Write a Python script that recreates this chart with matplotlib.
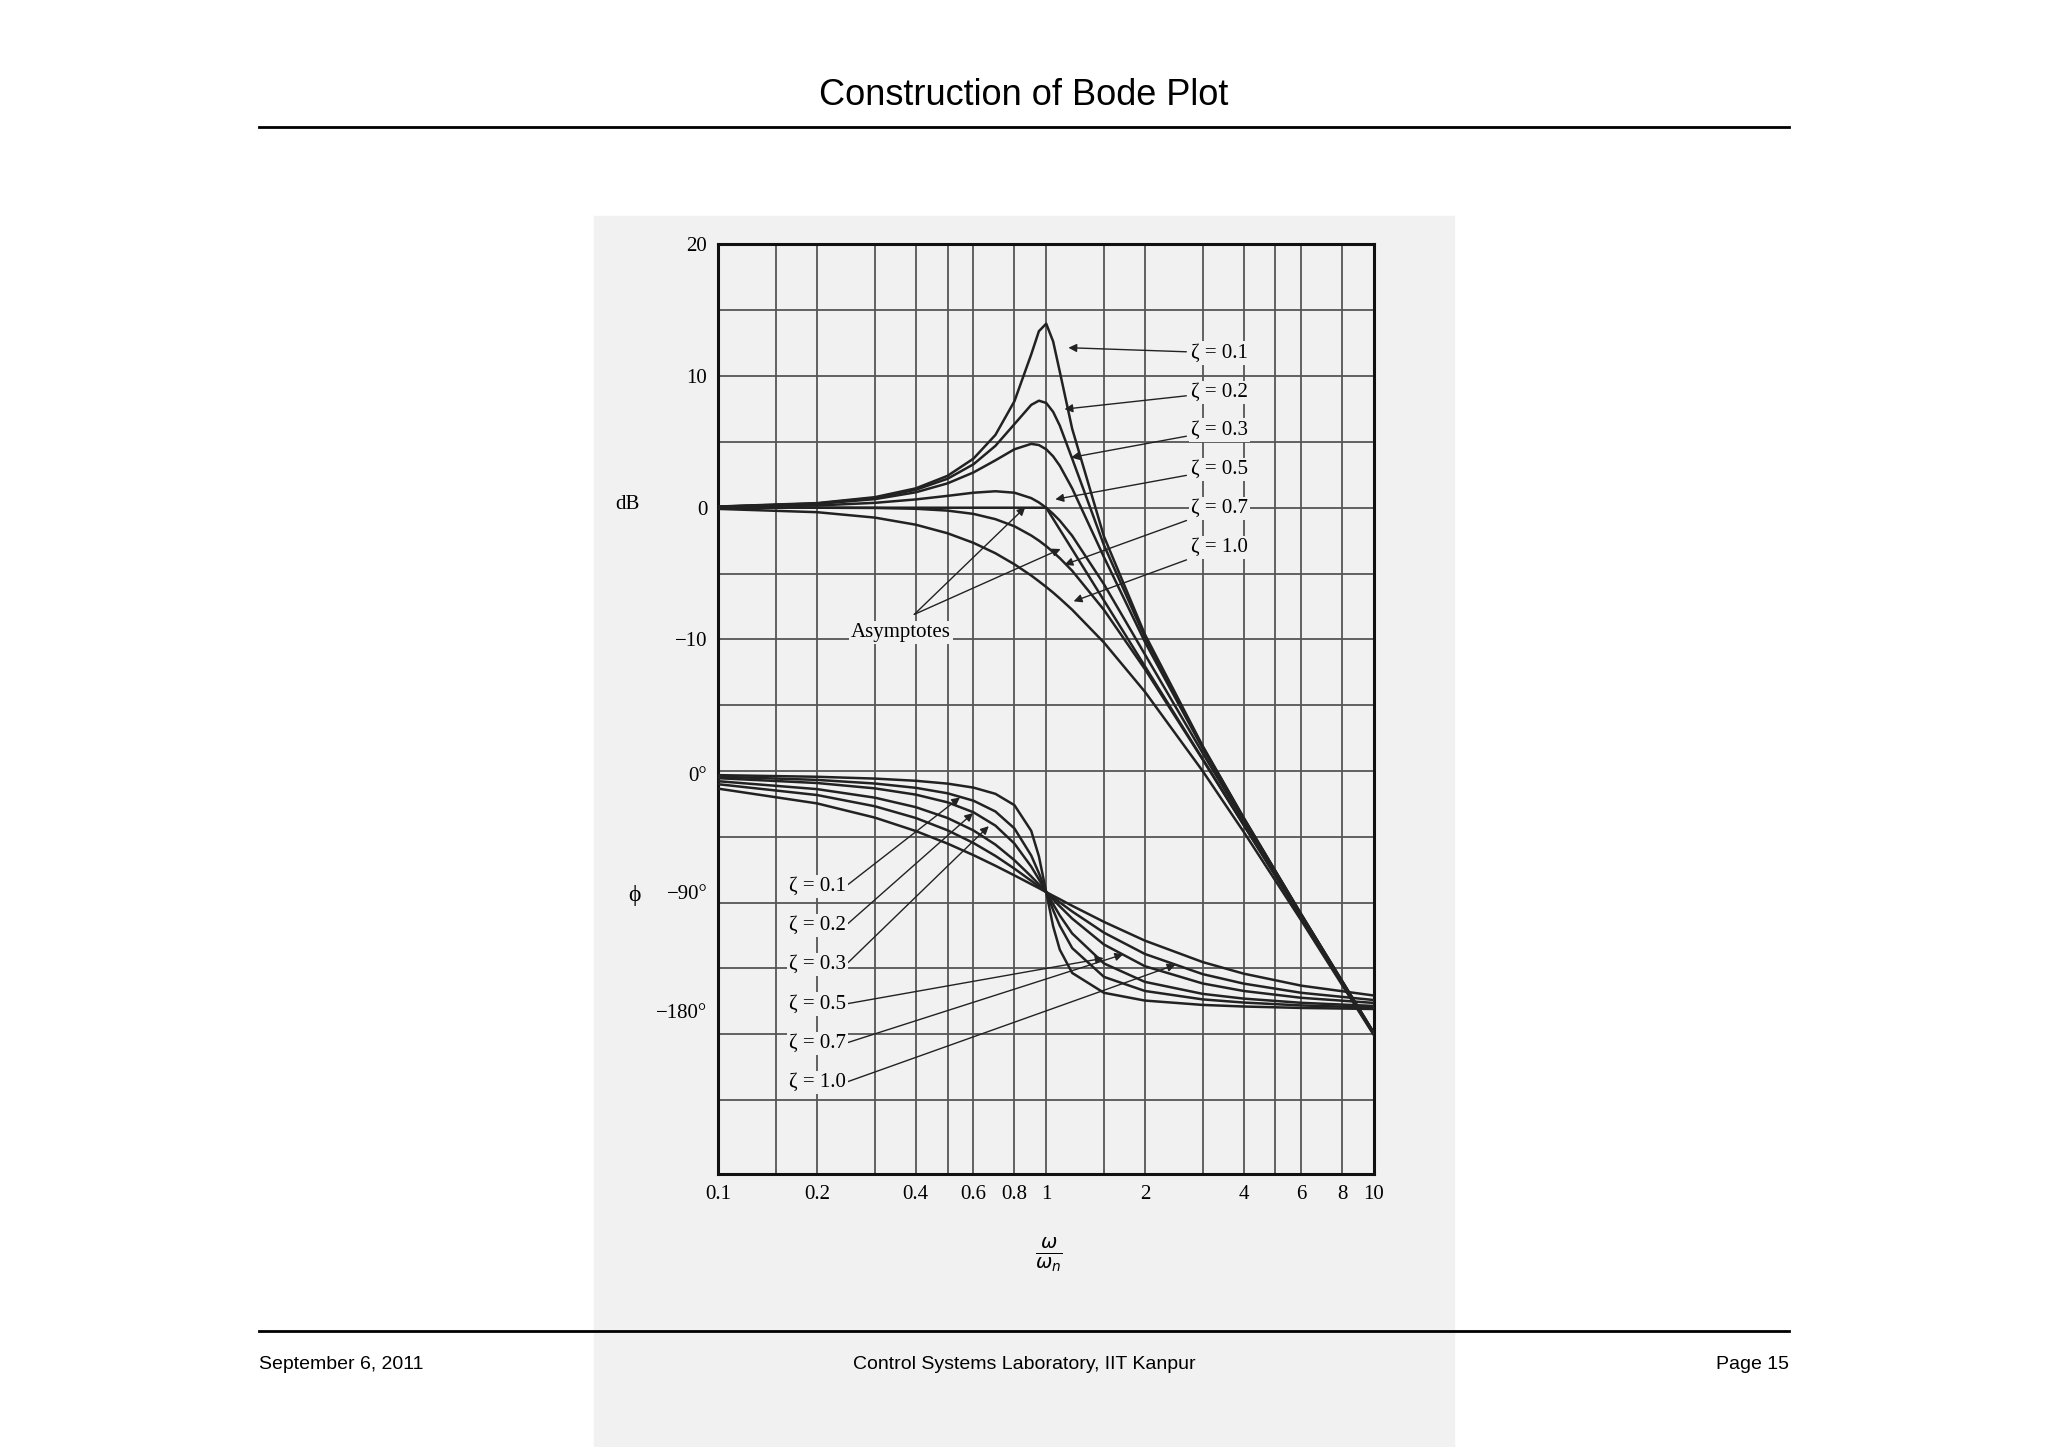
import matplotlib
matplotlib.use("Agg")
import matplotlib.pyplot as plt
from matplotlib.patches import Rectangle

# ---- data ----
u = [0.1, 0.2, 0.3, 0.4, 0.5, 0.6, 0.7, 0.8, 0.9, 0.95, 1.0, 1.05, 1.1, 1.2, 1.5, 2, 3, 4, 6, 10]
zetas = ["0.1", "0.2", "0.3", "0.5", "0.7", "1.0"]
mag_z01 = [0.09, 0.35, 0.80, 1.47, 2.42, 3.73, 5.53, 8.09, 11.64, 13.41, 13.98, 12.63, 10.34, 6.00, -2.18, -9.62, -18.09, -23.53, -30.89, -39.91]
mag_z02 = [0.08, 0.32, 0.74, 1.36, 2.20, 3.30, 4.70, 6.35, 7.81, 8.13, 7.96, 7.28, 6.24, 3.73, -2.84, -9.84, -18.16, -23.57, -30.90, -39.92]
mag_z03 = [0.07, 0.29, 0.65, 1.17, 1.85, 2.68, 3.60, 4.44, 4.85, 4.76, 4.44, 3.90, 3.19, 1.47, -3.75, -10.19, -18.28, -23.63, -30.93, -39.93]
mag_z05 = [0.04, 0.17, 0.37, 0.63, 0.90, 1.14, 1.25, 1.14, 0.73, 0.40, 0.00, -0.47, -0.98, -2.13, -5.81, -11.14, -18.63, -23.82, -31.01, -39.96]
mag_z07 = [0.00, 0.00, -0.02, -0.08, -0.22, -0.47, -0.87, -1.41, -2.11, -2.50, -2.92, -3.37, -3.83, -4.79, -7.76, -12.26, -19.12, -24.09, -31.12, -40.00]
mag_z10 = [-0.09, -0.34, -0.75, -1.29, -1.94, -2.67, -3.46, -4.30, -5.15, -5.59, -6.02, -6.45, -6.89, -7.75, -10.24, -13.98, -20.00, -24.61, -31.36, -40.09]
ph_z01 = [1.16, 2.39, 3.77, 5.44, 7.59, 10.62, 15.35, 23.96, 43.45, 62.8, 90, 116.0, 133.7, 151.4, 166.5, 172.4, 175.7, 176.9, 178.0, 178.8]
ph_z02 = [2.31, 4.76, 7.51, 10.78, 14.93, 20.56, 28.77, 41.63, 62.18, 75.6, 90, 103.7, 115.5, 132.5, 154.4, 165.1, 171.5, 173.9, 176.1, 177.7]
ph_z03 = [3.47, 7.13, 11.19, 15.95, 21.8, 29.36, 39.5, 53.13, 70.6, 80.3, 90, 99.2, 107.7, 121.4, 144.2, 158.2, 167.3, 170.9, 174.1, 176.5]
ph_z05 = [5.77, 11.77, 18.25, 25.46, 33.69, 43.15, 53.93, 65.77, 78.08, 84.1, 90, 95.6, 100.8, 110.1, 129.8, 146.3, 159.4, 165.1, 170.3, 174.2]
ph_z07 = [8.05, 16.26, 24.78, 33.69, 43.03, 52.7, 62.5, 72.2, 81.4, 85.8, 90, 94.0, 97.8, 104.7, 120.8, 137.0, 152.3, 159.5, 166.5, 172.0]
ph_z10 = [11.42, 22.62, 33.40, 43.60, 53.13, 61.93, 69.98, 77.32, 83.97, 87.0, 90, 92.8, 95.4, 100.4, 112.6, 126.87, 143.13, 151.93, 161.08, 168.58]
asym_u = [0.1, 1.0, 10]
asym_db = [0, 0, -40]
xtick_vals = [0.1, 0.2, 0.4, 0.6, 0.8, 1, 2, 4, 6, 8, 10]
xtick_labels = ["0.1", "0.2", "0.4", "0.6", "0.8", "1", "2", "4", "6", "8", "10"]
db_ticks = [20, 10, 0, -10]
db_labels = ["20", "10", "0", "\u221210"]
ph_ticks = [0, 90, 180]
ph_labels = ["0\u00b0", "\u221290\u00b0", "\u2212180\u00b0"]

mags = [mag_z01, mag_z02, mag_z03, mag_z05, mag_z07, mag_z10]
phs = [ph_z01, ph_z02, ph_z03, ph_z05, ph_z07, ph_z10]
PH0 = -20.2
def ph2y(p):
    return PH0 - p * 0.1

W, H = 1568, 1107
fig = plt.figure(figsize=(20.48, 14.47), dpi=100)
serif = ["Liberation Serif", "DejaVu Serif"]
BG = "#f1f1f1"

# scanned page background
fig.patches.append(Rectangle((455 / W, 1 - 1107 / H), (1113 - 455) / W, (1107 - 165) / H,
                             transform=fig.transFigure, color=BG, zorder=-5))

ax = fig.add_axes([550 / W, 1 - 898 / H, (1052 - 550) / W, (898 - 187) / H])
ax.set_zorder(2)
ax.set_facecolor("none")
ax.set_xscale("log")
ax.set_xlim(0.1, 10)
ax.set_ylim(-50.6, 20)

grid_x = [0.15, 0.2, 0.3, 0.4, 0.5, 0.6, 0.8, 1, 1.5, 2, 3, 4, 5, 6, 8]
for gx in grid_x:
    ax.axvline(gx, color="#555555", lw=1.3, zorder=1)
for gy in range(-45, 20, 5):
    ax.axhline(gy, color="#555555", lw=1.3, zorder=1)

for m in mags:
    ax.plot(u, m, color="#222222", lw=1.8, zorder=3)
ax.plot(asym_u, asym_db, color="#222222", lw=1.8, zorder=3)
for p in phs:
    ax.plot(u, [ph2y(v) for v in p], color="#222222", lw=1.8, zorder=3)

ax.set_xticks(xtick_vals)
ax.set_xticklabels(xtick_labels, family=serif, fontsize=15)
ax.minorticks_off()
yt = db_ticks + [ph2y(p) for p in ph_ticks]
ax.set_yticks(yt)
ax.set_yticklabels(db_labels + ph_labels, family=serif, fontsize=15)
ax.tick_params(length=0, pad=8)
for s in ax.spines.values():
    s.set_linewidth(2.2)
    s.set_color("#111111")

def P(x, y):
    return (10 ** ((x - 801) / 251.0), 20 - (y - 187) / 10.07)

ax.text(*P(480, 386), "dB", family=serif, fontsize=15, ha="center", va="center", clip_on=False)
ax.text(*P(486, 685), "\u03d5", family=serif, fontsize=17, ha="center", va="center", clip_on=False)
ax.text(*P(803, 960), r"$\frac{\omega}{\omega_n}$", fontsize=20, ha="center", va="center", clip_on=False)

box = dict(boxstyle="square,pad=0.1", facecolor=BG, edgecolor="none")
arrow = dict(arrowstyle="-|>", color="#222222", lw=1.0, mutation_scale=12)
mag_targets = [(818, 266), (815, 313), (820, 350), (808, 382), (815, 432), (822, 460)]
mag_text_y = [270, 300, 329, 359, 389, 419]
for z, (tx, ty), y in zip(zetas, mag_targets, mag_text_y):
    ax.annotate("\u03b6 = " + z, xy=P(tx, ty), xytext=P(912, y), family=serif, fontsize=15,
                ha="left", va="center", bbox=box,
                arrowprops=dict(arrow, shrinkA=2, shrinkB=0), zorder=5)

ax.text(*P(690, 484), "Asymptotes", family=serif, fontsize=15, ha="center", va="center",
        bbox=box, zorder=5)
for tgt in [(785, 388), (812, 420)]:
    ax.annotate("", xy=P(*tgt), xytext=P(700, 470), arrowprops=dict(arrow, shrinkA=0, shrinkB=0))

ph_targets = [(735, 610), (745, 622), (757, 632), (845, 733), (860, 730), (900, 738)]
ph_text_y = [678, 708, 738, 768, 798, 828]
for z, (tx, ty), y in zip(zetas, ph_targets, ph_text_y):
    ax.annotate("\u03b6 = " + z, xy=P(tx, ty), xytext=P(604, y), family=serif, fontsize=15,
                ha="left", va="center", bbox=box,
                arrowprops=dict(arrow, shrinkA=0, shrinkB=0, relpos=(1.0, 0.5)), zorder=5)

# slide decorations
fig.text(784 / W, 1 - 73 / H, "Construction of Bode Plot", ha="center", va="center",
         fontsize=26, family="Liberation Sans")
fig.add_artist(plt.Line2D([198 / W, 1370 / W], [1 - 97 / H] * 2, color="black", lw=2))
fig.add_artist(plt.Line2D([198 / W, 1370 / W], [1 - 1018 / H] * 2, color="black", lw=2))
fig.text(198 / W, 1 - 1044 / H, "September 6, 2011", ha="left", va="center", fontsize=14, family="Liberation Sans")
fig.text(784 / W, 1 - 1044 / H, "Control Systems Laboratory, IIT Kanpur", ha="center", va="center", fontsize=14, family="Liberation Sans")
fig.text(1370 / W, 1 - 1044 / H, "Page 15", ha="right", va="center", fontsize=14, family="Liberation Sans")

fig.savefig("out.png", dpi=100, facecolor="white")
